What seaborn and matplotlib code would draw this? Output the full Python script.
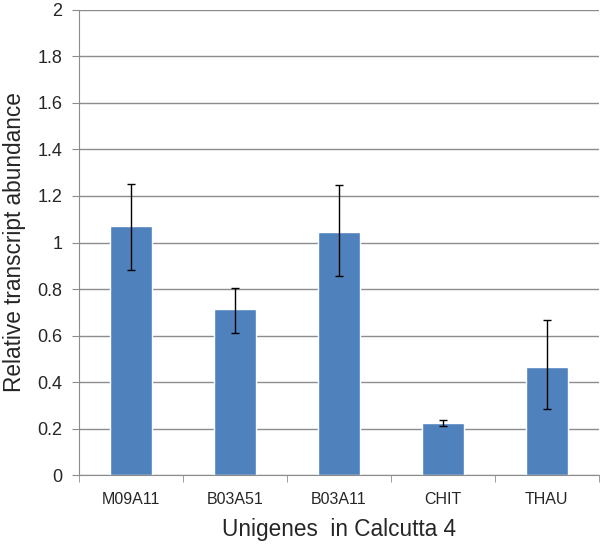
import numpy as np
import pandas as pd
import seaborn as sns
import matplotlib
matplotlib.use("Agg")
import matplotlib.pyplot as plt

# valeurs
genes = ["M09A11", "B03A51", "B03A11", "CHIT", "THAU"]
abundance = [1.072, 0.715, 1.045, 0.226, 0.465]
err_low = [0.880, 0.610, 0.855, 0.210, 0.283]
err_high = [1.252, 0.805, 1.247, 0.236, 0.665]
ytick_labels = ["0", "0.2", "0.4", "0.6", "0.8", "1", "1.2", "1.4", "1.6", "1.8", "2"]

df = pd.DataFrame({"gene": genes, "abundance": abundance})

sns.set_style("white")
plt.rcParams["font.family"] = ["Liberation Sans", "DejaVu Sans"]

fig = plt.figure(figsize=(6, 5.45), dpi=100)
ax = fig.add_axes([0.132, 0.128, 0.866, 0.854])

grid_col = "#8c8c8c"
ax.set_axisbelow(True)
ax.yaxis.grid(True, color=grid_col, linewidth=1)

sns.barplot(data=df, x="gene", y="abundance", color="#4F81BD", width=0.4,
            saturation=1, ax=ax)

vals = np.array(abundance)
yerr = np.array([vals - np.array(err_low), np.array(err_high) - vals])
ax.errorbar(np.arange(len(genes)), vals, yerr=yerr, fmt="none", ecolor="black",
            elinewidth=1, capsize=3, capthick=1)

ax.set_xlim(-0.5, len(genes) - 0.5)
ax.set_ylim(0, 2)
ax.set_yticks(np.linspace(0, 2, 11))
ax.set_yticklabels(ytick_labels)

for s in ["top", "right"]:
    ax.spines[s].set_visible(False)
ax.spines["left"].set_color(grid_col)
ax.spines["bottom"].set_color(grid_col)

ax.tick_params(axis="y", which="major", length=5, color=grid_col, labelsize=13,
               pad=7, left=True)
ax.tick_params(axis="x", which="major", length=0, labelsize=11.5, pad=12)
ax.set_xticks(np.arange(-0.5, len(genes), 1.0), minor=True)
ax.tick_params(axis="x", which="minor", length=5, color=grid_col, bottom=True)

ax.set_xlabel("Unigenes  in Calcutta 4", fontsize=16.3, labelpad=8)
ax.set_ylabel("Relative transcript abundance", fontsize=16.3, labelpad=8)

fig.savefig("out.png", dpi=100)
